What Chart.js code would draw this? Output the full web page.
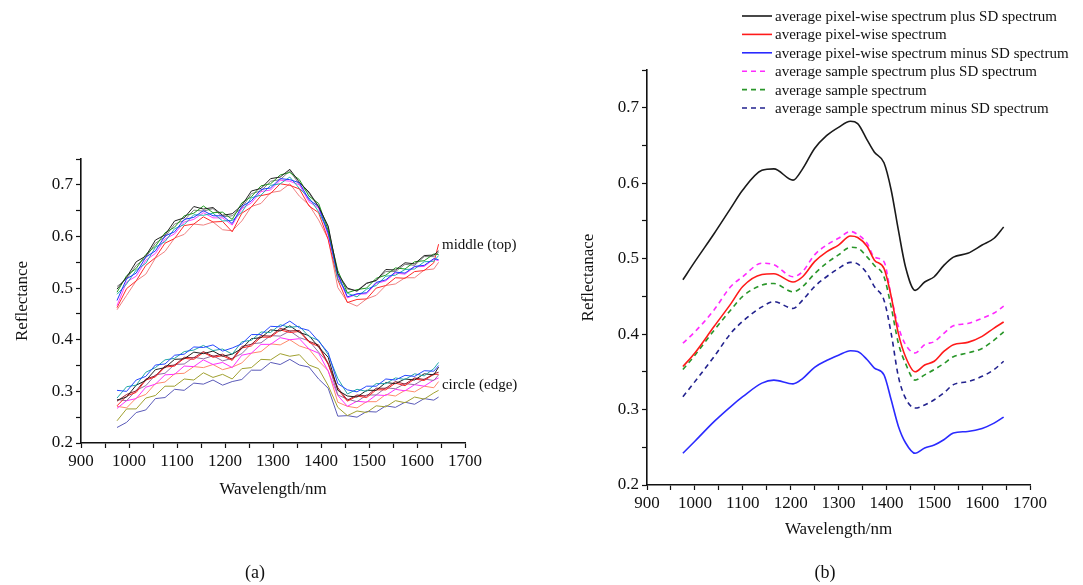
<!DOCTYPE html>
<html>
<head>
<meta charset="utf-8">
<script src="https://cdn.jsdelivr.net/npm/chart.js@4.4.1/dist/chart.umd.min.js"></script>
<style>
  html, body { margin: 0; padding: 0; background: #fff; }
  #wrap { position: relative; width: 1083px; height: 585px; }
  .box { position: absolute; top: 0; height: 585px; }
  .cap { position: absolute; top: 562px; font-family: 'Liberation Serif', serif; font-size: 18px; color: #111; transform: translateX(-50%); }
</style>
</head>
<body>
<div id="wrap">
  <div class="box" style="left:0;width:540px"><canvas id="chart_a"></canvas></div>
  <div class="box" style="left:540px;width:543px"><canvas id="chart_b"></canvas></div>
  <div class="cap" style="left:255px">(a)</div>
  <div class="cap" style="left:825px">(b)</div>
</div>
<script>
// ---------- panel (a): single spectra ----------
const wavelengthA = [975, 995, 1015, 1035, 1055, 1075, 1095, 1115, 1135, 1155, 1175, 1195, 1215, 1235, 1255, 1275, 1295, 1315, 1335, 1355, 1375, 1395, 1415, 1435, 1455, 1475, 1495, 1515, 1535, 1555, 1575, 1595, 1615, 1635, 1645];

// middle (top) samples
const midBlack   = [0.498,0.521,0.551,0.562,0.593,0.603,0.630,0.636,0.658,0.653,0.656,0.641,0.644,0.660,0.688,0.693,0.712,0.715,0.730,0.705,0.686,0.658,0.620,0.528,0.500,0.494,0.509,0.515,0.536,0.535,0.549,0.547,0.563,0.564,0.572];
const midGreen   = [0.492,0.524,0.538,0.565,0.581,0.607,0.618,0.640,0.645,0.659,0.646,0.647,0.633,0.665,0.677,0.698,0.702,0.719,0.724,0.710,0.678,0.664,0.612,0.534,0.491,0.497,0.500,0.519,0.525,0.539,0.537,0.551,0.553,0.566,0.565];
const midBlue    = [0.476,0.518,0.529,0.560,0.572,0.601,0.609,0.633,0.637,0.650,0.640,0.640,0.625,0.658,0.669,0.691,0.694,0.712,0.710,0.704,0.671,0.658,0.606,0.527,0.483,0.489,0.491,0.511,0.516,0.531,0.529,0.542,0.544,0.557,0.555];
const midCyan    = [0.488,0.508,0.535,0.548,0.579,0.590,0.615,0.623,0.642,0.641,0.645,0.630,0.631,0.647,0.675,0.680,0.699,0.702,0.715,0.693,0.675,0.648,0.610,0.518,0.490,0.483,0.498,0.505,0.523,0.525,0.536,0.537,0.551,0.552,0.563];
const midMagenta = [0.466,0.512,0.523,0.554,0.567,0.595,0.605,0.628,0.633,0.646,0.636,0.636,0.622,0.654,0.665,0.687,0.690,0.709,0.707,0.700,0.667,0.655,0.602,0.524,0.481,0.488,0.489,0.509,0.514,0.529,0.527,0.541,0.542,0.556,0.553];
const midGray    = [0.503,0.518,0.544,0.559,0.587,0.599,0.624,0.631,0.651,0.649,0.654,0.638,0.640,0.655,0.683,0.688,0.707,0.710,0.727,0.701,0.684,0.656,0.618,0.524,0.498,0.495,0.510,0.514,0.532,0.532,0.546,0.544,0.561,0.561,0.569];
const midRed     = [0.462,0.499,0.514,0.544,0.559,0.587,0.596,0.621,0.624,0.638,0.628,0.629,0.609,0.645,0.657,0.679,0.683,0.702,0.699,0.692,0.659,0.646,0.594,0.516,0.472,0.478,0.479,0.500,0.505,0.520,0.519,0.532,0.534,0.549,0.585];
const midPink    = [0.458,0.486,0.514,0.527,0.558,0.571,0.597,0.604,0.624,0.622,0.628,0.613,0.611,0.630,0.658,0.664,0.685,0.688,0.702,0.678,0.661,0.632,0.595,0.501,0.473,0.465,0.479,0.486,0.505,0.508,0.520,0.520,0.535,0.537,0.550];

// circle (edge) samples
const edgeBlue    = [0.302,0.300,0.322,0.329,0.351,0.353,0.370,0.372,0.386,0.385,0.390,0.378,0.384,0.392,0.410,0.410,0.426,0.425,0.436,0.423,0.418,0.397,0.375,0.315,0.303,0.299,0.310,0.310,0.324,0.322,0.331,0.329,0.340,0.339,0.350];
const edgeTeal    = [0.287,0.309,0.312,0.337,0.346,0.361,0.364,0.377,0.380,0.389,0.379,0.382,0.372,0.396,0.399,0.415,0.414,0.429,0.424,0.426,0.406,0.399,0.371,0.325,0.295,0.304,0.300,0.315,0.315,0.326,0.323,0.334,0.330,0.344,0.356];
const edgeBlack   = [0.283,0.289,0.312,0.321,0.342,0.346,0.362,0.363,0.376,0.373,0.378,0.368,0.372,0.383,0.402,0.404,0.419,0.417,0.427,0.414,0.408,0.386,0.366,0.302,0.291,0.289,0.302,0.302,0.317,0.315,0.324,0.322,0.334,0.332,0.347];
const edgeDarkRed = [0.281,0.294,0.301,0.324,0.330,0.349,0.351,0.366,0.365,0.377,0.368,0.372,0.362,0.387,0.391,0.408,0.407,0.422,0.417,0.418,0.397,0.390,0.354,0.307,0.283,0.293,0.291,0.306,0.306,0.319,0.314,0.326,0.323,0.334,0.337];
const edgeRed     = [0.272,0.291,0.298,0.322,0.328,0.347,0.349,0.364,0.362,0.375,0.366,0.369,0.360,0.384,0.388,0.405,0.405,0.419,0.414,0.416,0.395,0.387,0.352,0.304,0.281,0.291,0.288,0.303,0.303,0.316,0.311,0.324,0.321,0.333,0.333];
const edgePurple  = [0.284,0.282,0.302,0.311,0.332,0.335,0.352,0.353,0.366,0.363,0.369,0.359,0.364,0.373,0.392,0.394,0.408,0.407,0.417,0.404,0.398,0.376,0.355,0.293,0.285,0.280,0.293,0.293,0.307,0.305,0.315,0.313,0.324,0.321,0.332];
const edgeMagenta = [0.267,0.282,0.286,0.308,0.314,0.332,0.333,0.349,0.348,0.361,0.352,0.356,0.346,0.370,0.374,0.391,0.391,0.404,0.400,0.402,0.382,0.374,0.339,0.292,0.271,0.281,0.279,0.293,0.292,0.304,0.301,0.313,0.310,0.322,0.326];
const edgeSalmon  = [0.271,0.268,0.287,0.294,0.315,0.318,0.334,0.335,0.348,0.346,0.352,0.342,0.347,0.355,0.374,0.377,0.392,0.390,0.400,0.388,0.382,0.359,0.340,0.279,0.271,0.268,0.280,0.280,0.294,0.291,0.302,0.299,0.310,0.307,0.319];
const edgeOlive   = [0.243,0.266,0.266,0.287,0.292,0.310,0.310,0.324,0.322,0.336,0.327,0.333,0.324,0.344,0.346,0.362,0.361,0.373,0.368,0.371,0.351,0.344,0.311,0.269,0.253,0.262,0.259,0.272,0.270,0.282,0.278,0.289,0.285,0.297,0.302];
const edgeSlate   = [0.230,0.240,0.259,0.264,0.286,0.288,0.304,0.302,0.316,0.314,0.322,0.312,0.319,0.323,0.341,0.341,0.356,0.352,0.362,0.351,0.347,0.324,0.306,0.252,0.253,0.250,0.261,0.260,0.272,0.269,0.279,0.275,0.286,0.283,0.289];

const seriesA = [midBlack, midGreen, midBlue, midCyan, midMagenta, midGray, midRed, midPink,
  edgeBlue, edgeTeal, edgeBlack, edgeDarkRed, edgeRed, edgePurple, edgeMagenta, edgeSalmon, edgeOlive, edgeSlate];
const colorsA = ['#222222', '#1f9a1f', '#2030ff', '#20b0b0', '#ff40ff', '#808080', '#ff2a2a', '#f08080',
  '#2848ff', '#22a8a8', '#222222', '#9a1f2f', '#ff2020', '#9070a0', '#ff30ff', '#ff8a6a', '#a0a030', '#5a5ab8'];

const groupLabels = ['middle (top)', 'circle (edge)'];
const groupLabelX = [1652, 1652];
const groupLabelY = [0.584, 0.312];

// ---------- panel (b): averaged spectra ----------
const wavelengthB = [975, 1000, 1040, 1075, 1100, 1140, 1165, 1205, 1225, 1250, 1275, 1300, 1325, 1340, 1360, 1375, 1395, 1410, 1425, 1440, 1460, 1480, 1500, 1520, 1540, 1570, 1600, 1625, 1645];
const pixelPlusSD  = [0.472,0.496,0.533,0.567,0.591,0.617,0.619,0.604,0.619,0.646,0.663,0.674,0.682,0.679,0.657,0.641,0.627,0.591,0.538,0.489,0.458,0.469,0.476,0.491,0.502,0.507,0.518,0.527,0.542];
const pixelAvg     = [0.357,0.375,0.410,0.440,0.463,0.479,0.480,0.469,0.476,0.496,0.509,0.518,0.530,0.528,0.516,0.498,0.487,0.450,0.401,0.370,0.350,0.359,0.364,0.377,0.386,0.389,0.397,0.408,0.416];
const pixelMinusSD = [0.242,0.258,0.284,0.304,0.317,0.335,0.339,0.334,0.341,0.356,0.365,0.372,0.378,0.377,0.366,0.355,0.346,0.313,0.278,0.256,0.242,0.249,0.253,0.260,0.269,0.271,0.275,0.282,0.290];
const samplePlusSD  = [0.388,0.403,0.432,0.463,0.476,0.494,0.492,0.476,0.483,0.505,0.518,0.527,0.536,0.532,0.520,0.502,0.496,0.450,0.410,0.386,0.375,0.386,0.390,0.401,0.411,0.414,0.421,0.428,0.437];
const sampleAvg     = [0.353,0.372,0.405,0.432,0.450,0.465,0.467,0.456,0.463,0.480,0.494,0.505,0.515,0.514,0.502,0.491,0.476,0.436,0.388,0.361,0.339,0.346,0.353,0.361,0.370,0.375,0.381,0.392,0.403];
const sampleMinusSD = [0.317,0.337,0.370,0.401,0.417,0.436,0.443,0.434,0.445,0.463,0.476,0.487,0.495,0.493,0.480,0.463,0.445,0.401,0.344,0.315,0.302,0.306,0.313,0.322,0.333,0.337,0.344,0.353,0.364];

const seriesB = [pixelPlusSD, pixelAvg, pixelMinusSD, samplePlusSD, sampleAvg, sampleMinusSD];
const labelsB = [
  'average pixel-wise spectrum plus SD spectrum',
  'average pixel-wise spectrum',
  'average pixel-wise spectrum minus SD spectrum',
  'average sample spectrum plus SD spectrum',
  'average sample spectrum',
  'average sample spectrum minus SD spectrum'
];
const colorsB = ['#1a1a1a', '#ff1a1a', '#2a2aff', '#ff2aff', '#2a962a', '#22228e'];
const dashedB = [false, false, false, true, true, true];

// ---------- shared axis styling ----------
const serif = "'Liberation Serif', 'Times New Roman', serif";
const toXY = (xs, ys) => ys.map((v, i) => ({ x: xs[i], y: v }));

function axes(yTitle, yWidth, yTitlePad, xTitlePad) {
  return {
    x: {
      type: 'linear', min: 900, max: 1700,
      afterFit: s => { s.height = 70; },
      ticks: {
        stepSize: 50, autoSkip: false, maxRotation: 0, padding: 3, color: '#111',
        font: { family: serif, size: 17 },
        callback: v => (v % 100 === 0 ? v : '')
      },
      grid: { display: true, drawOnChartArea: false, tickLength: 5, tickColor: '#111', tickWidth: 1.2 },
      border: { display: true, color: '#111', width: 1.6 },
      title: { display: true, text: 'Wavelength/nm', color: '#111', font: { family: serif, size: 17 }, padding: { top: 0, bottom: xTitlePad } }
    },
    y: {
      min: 0.2, max: 0.75,
      afterFit: s => { s.width = yWidth; },
      ticks: {
        stepSize: 0.05, autoSkip: false, padding: 3, color: '#111',
        font: { family: serif, size: 17 },
        callback: v => { const r = Math.round(v * 100); return r % 10 === 0 ? (r / 100).toFixed(1) : ''; }
      },
      grid: { display: true, drawOnChartArea: false, tickLength: 5, tickColor: '#111', tickWidth: 1.2 },
      border: { display: true, color: '#111', width: 1.6 },
      title: { display: true, text: yTitle, color: '#111', font: { family: serif, size: 17 }, padding: { top: yTitlePad, bottom: 0 } }
    }
  };
}

// labels "middle (top)" / "circle (edge)"
const sideLabels = {
  id: 'sideLabels',
  afterDatasetsDraw(chart) {
    const { ctx, scales: { x, y } } = chart;
    ctx.save();
    ctx.font = '15px ' + serif;
    ctx.fillStyle = '#111';
    ctx.textBaseline = 'middle';
    groupLabels.forEach((t, i) => ctx.fillText(t, x.getPixelForValue(groupLabelX[i]), y.getPixelForValue(groupLabelY[i])));
    ctx.restore();
  }
};

// stacked legend at top of panel (b)
const stackLegend = {
  id: 'stackLegend',
  afterDraw(chart) {
    const ctx = chart.ctx;
    ctx.save();
    ctx.font = '15px ' + serif;
    ctx.textBaseline = 'middle';
    chart.data.datasets.forEach((ds, i) => {
      const yy = 16 + i * 18.4;
      ctx.strokeStyle = ds.borderColor;
      ctx.lineWidth = 1.6;
      ctx.setLineDash(ds.borderDash || []);
      ctx.beginPath();
      ctx.moveTo(202, yy);
      ctx.lineTo(ds.borderDash ? 228 : 232, yy);
      ctx.stroke();
      ctx.setLineDash([]);
      ctx.fillStyle = '#111';
      ctx.fillText(ds.label, 235, yy + 1);
    });
    ctx.restore();
  }
};

const cfgA = {
  type: 'line',
  data: {
    datasets: seriesA.map((s, i) => ({
      data: toXY(wavelengthA, s),
      borderColor: colorsA[i],
      borderWidth: 1,
      pointRadius: 0,
      tension: 0
    }))
  },
  options: {
    responsive: true,
    maintainAspectRatio: false,
    animation: false,
    layout: { padding: { left: 0, right: 75, top: 159, bottom: 72 } },
    plugins: { legend: { display: false }, tooltip: { enabled: false } },
    scales: axes('Reflectance', 81, 12, 13)
  },
  plugins: [sideLabels]
};

const cfgB = {
  type: 'line',
  data: {
    datasets: seriesB.map((s, i) => ({
      label: labelsB[i],
      data: toXY(wavelengthB, s),
      borderColor: colorsB[i],
      borderWidth: 1.6,
      borderDash: dashedB[i] ? [5, 4] : undefined,
      pointRadius: 0,
      cubicInterpolationMode: 'monotone'
    }))
  },
  options: {
    responsive: true,
    maintainAspectRatio: false,
    animation: false,
    layout: { padding: { left: 26, right: 53, top: 70, bottom: 30 } },
    plugins: { legend: { display: false }, tooltip: { enabled: false } },
    scales: axes('Reflectanace', 81, 12, 15)
  },
  plugins: [stackLegend]
};

const chartA = new Chart(document.getElementById('chart_a').getContext('2d'), cfgA);
const chartB = new Chart(document.getElementById('chart_b').getContext('2d'), cfgB);
</script>
</body>
</html>
